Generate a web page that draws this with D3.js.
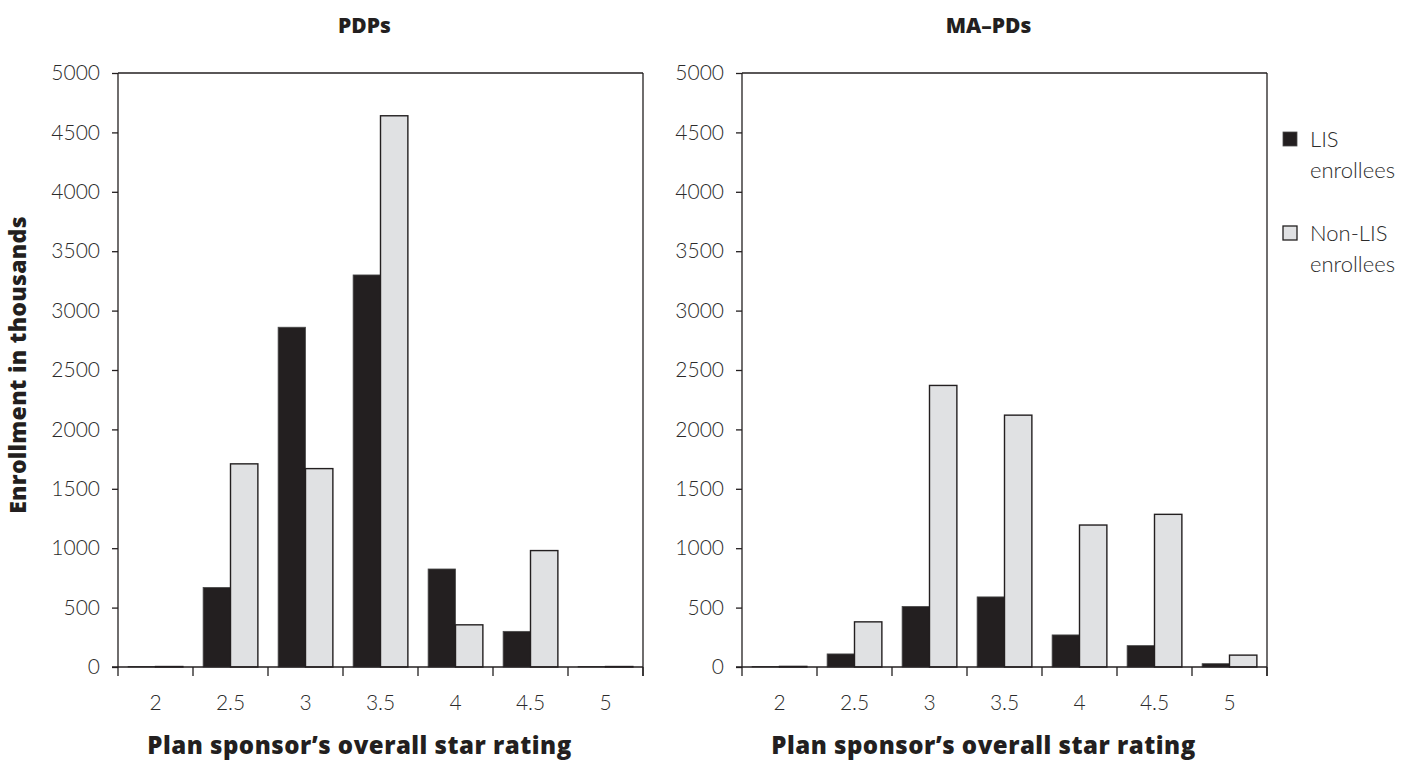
<!DOCTYPE html>
<html>
<head>
<meta charset="utf-8">
<script src="https://cdn.jsdelivr.net/npm/d3@7"></script>
<style>
  html, body { margin: 0; padding: 0; background: #fff; }
  svg { display: block; }
  .tick text { font-family: Lato, "Open Sans", sans-serif; font-weight: 300; fill: #2b2b2b; }
</style>
</head>
<body>
<svg id="chart" width="1410" height="774"></svg>
<script>
// ---- data ----
const categories = ["2", "2.5", "3", "3.5", "4", "4.5", "5"];
const seriesNames = ["LIS enrollees", "Non-LIS enrollees"];
const panelTitles = ["PDPs", "MA–PDs"];
const pdpLIS     = [4, 670, 2860, 3300, 825, 300, 4];
const pdpNonLIS  = [4, 1710, 1670, 4640, 355, 980, 4];
const mapdLIS    = [5, 110, 510, 590, 270, 180, 28];
const mapdNonLIS = [5, 380, 2370, 2120, 1195, 1285, 100];
const yTicks = [0, 500, 1000, 1500, 2000, 2500, 3000, 3500, 4000, 4500, 5000];
const yLabel = "Enrollment in thousands";
const xLabel = "Plan sponsor\u2019s overall star rating";

const panels = [
  { title: panelTitles[0], values: [pdpLIS, pdpNonLIS], left: 118 },
  { title: panelTitles[1], values: [mapdLIS, mapdNonLIS], left: 742 }
];

const svg = d3.select("#chart");
const plotTop = 73, plotBottom = 667, plotWidth = 525;
const colors = ["#231f20", "#e0e1e3"];
const strokes = ["#4a4a4a", "#231f20"];
const ink = "#231f20";
const boldFont = "'Open Sans', Lato, sans-serif";

const y = d3.scaleLinear().domain([0, 5000]).range([plotBottom, plotTop]);

panels.forEach(p => {
  const g = svg.append("g").attr("transform", `translate(${p.left},0)`);
  const x = d3.scaleBand().domain(categories).range([0, plotWidth]).padding(0);
  const bw = x.bandwidth();
  const xs = d3.scaleBand().domain(seriesNames).range([bw * 0.135, bw * 0.865]).padding(0);

  // frame top & right
  g.append("line").attr("x1", 0).attr("x2", plotWidth).attr("y1", plotTop).attr("y2", plotTop)
    .attr("stroke", ink).attr("stroke-width", 1.3);
  g.append("line").attr("x1", plotWidth).attr("x2", plotWidth).attr("y1", plotTop).attr("y2", plotBottom + 9)
    .attr("stroke", ink).attr("stroke-width", 1.3);

  // bars
  seriesNames.forEach((s, si) => {
    g.append("g").selectAll("rect")
      .data(categories.map((c, i) => ({ c, v: p.values[si][i] })))
      .join("rect")
      .attr("x", d => x(d.c) + xs(s))
      .attr("width", xs.bandwidth())
      .attr("y", d => y(d.v))
      .attr("height", d => plotBottom - y(d.v))
      .attr("fill", colors[si])
      .attr("stroke", strokes[si])
      .attr("stroke-width", si === 1 ? 1.4 : 0.8);
  });

  // y axis
  const ya = g.append("g").call(d3.axisLeft(y).tickValues(yTicks).tickSize(6).tickPadding(12).tickFormat(d3.format("d")));
  ya.selectAll("path, line").attr("stroke", ink).attr("stroke-width", 1.3);
  ya.select(".domain").attr("d", `M0,${plotTop}V${plotBottom}`);
  ya.selectAll("text").attr("font-size", 21);

  // x axis labels
  const xa = g.append("g").attr("transform", `translate(0,${plotBottom})`)
    .call(d3.axisBottom(x).tickSize(0).tickPadding(28));
  xa.select(".domain").attr("d", `M-6,0H${plotWidth}`).attr("stroke", ink).attr("stroke-width", 1.3);
  xa.selectAll("text").attr("font-size", 21);

  // x boundary ticks
  const bounds = categories.map(c => x(c)).concat([x.range()[1]]);
  g.append("g").selectAll("line").data(bounds).join("line")
    .attr("x1", d => d).attr("x2", d => d)
    .attr("y1", plotBottom).attr("y2", plotBottom + 9)
    .attr("stroke", ink).attr("stroke-width", 1.3);

  // title
  g.append("text").attr("x", plotWidth / 2 - 16).attr("y", 33)
    .attr("text-anchor", "middle")
    .attr("font-family", boldFont).attr("font-weight", 800)
    .attr("font-size", 21).attr("fill", ink).text(p.title);

  // x label
  g.append("text").attr("x", plotWidth / 2 - 21).attr("y", 754)
    .attr("text-anchor", "middle")
    .attr("font-family", boldFont).attr("font-weight", 800)
    .attr("font-size", 24).attr("letter-spacing", 0.5).attr("fill", ink).text(xLabel);
});

// y label
svg.append("text")
  .attr("transform", `translate(26,365) rotate(-90)`)
  .attr("text-anchor", "middle")
  .attr("font-family", boldFont).attr("font-weight", 800)
  .attr("font-size", 23).attr("letter-spacing", 0.3).attr("fill", ink).text(yLabel);

// legend
const legendLines = [["LIS", "enrollees"], ["Non-LIS", "enrollees"]];
const legend = svg.append("g").attr("transform", "translate(1283,132)");
seriesNames.forEach((s, i) => {
  const lg = legend.append("g").attr("transform", `translate(0,${i * 94})`);
  lg.append("rect").attr("width", 14).attr("height", 14)
    .attr("fill", colors[i]).attr("stroke", strokes[i]).attr("stroke-width", i === 1 ? 1.3 : 0.8);
  legendLines[i].forEach((t, j) => {
    lg.append("text").attr("x", 27).attr("y", 15 + j * 31)
      .attr("font-family", "Lato, 'Open Sans', sans-serif").attr("font-weight", 300)
      .attr("font-size", 22).attr("fill", "#2b2b2b").text(t);
  });
});
</script>
</body>
</html>
